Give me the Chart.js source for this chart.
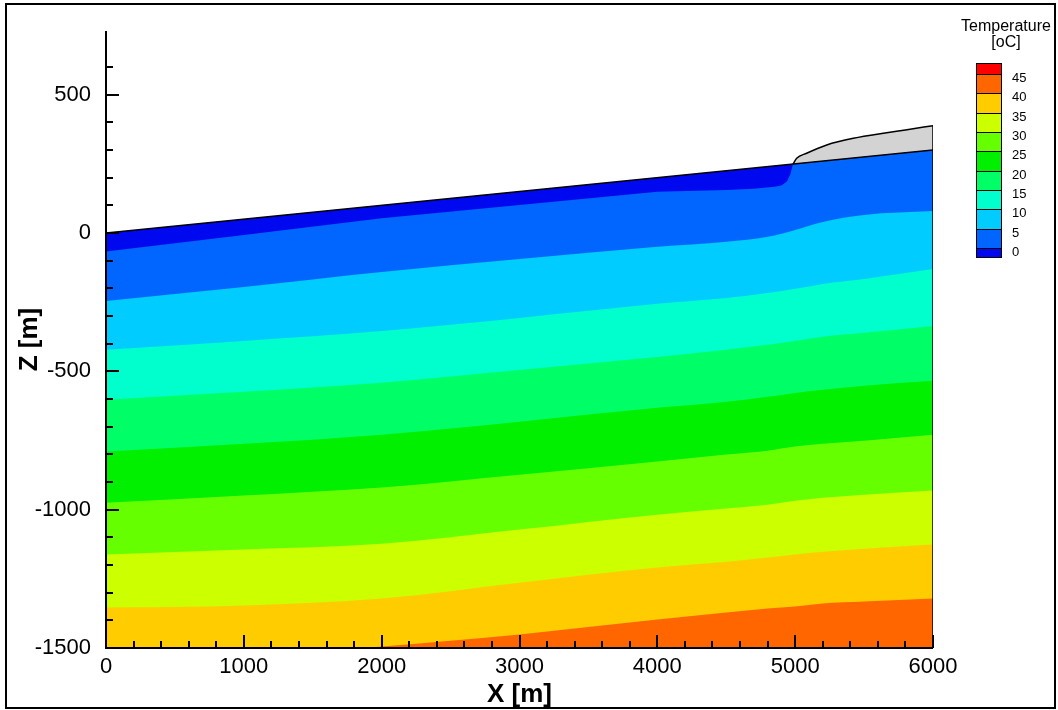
<!DOCTYPE html>
<html>
<head>
<meta charset="utf-8">
<title>Temperature cross-section</title>
<script src="https://cdn.jsdelivr.net/npm/chart.js@4.4.1/dist/chart.umd.min.js"></script>
<style>
  html, body { margin: 0; padding: 0; background: #fff; }
  #wrap { position: relative; width: 1058px; height: 710px; overflow: hidden; }
  #chart { position: absolute; left: 0; top: 0; }
  #frame { position: absolute; left: 5px; top: 3px; width: 1051px; height: 706px;
           border: 2px solid #000; box-sizing: border-box; pointer-events: none; }
  #legend { position: absolute; left: 950px; top: 18px; width: 112px;
            font-family: "Liberation Sans", Arial, sans-serif; color: #000; }
  #legend .title { text-align: center; font-size: 16px; line-height: 16px; }
  #bar { position: absolute; left: 26px; top: 45px; width: 24px;
         border: 1.5px solid #000; box-sizing: content-box; }
  #bar div { border-top: 1px solid #000; box-sizing: border-box; }
  #bar div:first-child { border-top: none; }
  .lvl { position: absolute; left: 62px; font-size: 13px; line-height: 13px; }
</style>
</head>
<body>
<div id="wrap">
  <canvas id="chart" width="1058" height="710"></canvas>
  <div id="frame"></div>
  <div id="legend">
    <div class="title">Temperature</div>
    <div class="title">[oC]</div>
    <div id="bar"></div>
  </div>
</div>
<script>
// ---- data (x and depth in m) ----
const gridX = [0, 1000, 2000, 3000, 4000, 4500, 4800, 5000, 5200, 5500, 6000];

// ground surface and the grey wedge on top of it
const surfaceX = [0, 6000];
const surfaceZ = [0, 300];
const greyX = [4984, 5011, 5083, 5229, 5422, 5664, 5800, 6000];
const greyZ = [249, 270, 288, 318, 342, 362, 372, 388];

// 0 degC isotherm (bottom of the dark blue layer), joins the surface near 4984
const iso0X = [0, 1000, 2000, 3000, 4000, 4500, 4700, 4850, 4900, 4940, 4965, 4984, 6000];
const iso0Z = [-67, -7, 53, 101, 149, 155, 160, 167, 172, 186, 212, 249, 300];

// deeper isotherms on gridX
const iso5  = [-246, -195, -141, -94, -50, -32, -14, 11, 40, 65, 79];
const iso10 = [-422, -390, -354, -307, -256, -235, -217, -202, -184, -166, -130];
const iso15 = [-603, -574, -541, -495, -448, -422, -404, -390, -375, -361, -336];
const iso20 = [-790, -762, -729, -682, -632, -610, -592, -578, -567, -552, -534];
const iso25 = [-975, -949, -920, -874, -826, -801, -787, -772, -762, -751, -729];
const iso30 = [-1162, -1144, -1123, -1072, -1018, -996, -982, -968, -957, -946, -931];
const iso35 = [-1354, -1346, -1321, -1264, -1209, -1188, -1173, -1162, -1152, -1141, -1126];
const iso40 = [-1581, -1538, -1495, -1451, -1397, -1372, -1357, -1350, -1339, -1332, -1321];

// colour bar, top to bottom
const legendLevels = [45, 40, 35, 30, 25, 20, 15, 10, 5, 0];
const bandColors = ['#ff0000', '#ff6600', '#ffcc00', '#ccff00', '#66ff00', '#00f000',
                    '#00ff66', '#00ffcc', '#00ccff', '#0066ff', '#0008f0'];

const xMin = 0, xMax = 6000, zMin = -1500, zMax = 730;

// ---- helpers ----
const pts = (xs, zs) => xs.map((x, i) => ({ x: x, y: zs[i] }));

function band(xs, zs, color, order, smooth = true) {
    const ds = { data: pts(xs, zs), showLine: true, pointRadius: 0, borderWidth: 0,
                 backgroundColor: color, fill: 'start', order: order, tension: 0 };
    if (smooth) ds.cubicInterpolationMode = 'monotone';
    return ds;
}
function outline(data, order, smooth = false) {
    const ds = { data: data, showLine: true, pointRadius: 0, borderWidth: 1.5,
                 borderColor: '#000', fill: false, order: order, tension: 0 };
    if (smooth) ds.cubicInterpolationMode = 'monotone';
    return ds;
}

const datasets = [
    band(greyX, greyZ, '#d3d3d3', 30),
    band(surfaceX, surfaceZ, bandColors[10], 29, false),
    band(iso0X, iso0Z, bandColors[9], 28, false),
    band(gridX, iso5, bandColors[8], 27),
    band(gridX, iso10, bandColors[7], 26),
    band(gridX, iso15, bandColors[6], 25),
    band(gridX, iso20, bandColors[5], 24),
    band(gridX, iso25, bandColors[4], 23),
    band(gridX, iso30, bandColors[3], 22),
    band(gridX, iso35, bandColors[2], 21),
    band(gridX, iso40, bandColors[1], 20),
    outline(pts(surfaceX, surfaceZ), 3),
    outline(pts(greyX, greyZ), 2, true),
    outline([{ x: xMax, y: zMin }, { x: xMax, y: greyZ[greyZ.length - 1] }], 1)
];

// inward ticks + axis lines, like the original plot
const inwardAxes = {
    id: 'inwardAxes',
    afterDatasetsDraw(chart) {
        const { ctx, chartArea: a, scales: { x, y } } = chart;
        ctx.save();
        ctx.strokeStyle = '#000';
        ctx.lineWidth = 2;
        ctx.beginPath();
        ctx.moveTo(a.left, a.top);
        ctx.lineTo(a.left, a.bottom);
        ctx.lineTo(a.right, a.bottom);
        ctx.stroke();
        ctx.beginPath();
        y.ticks.forEach(t => {
            if (t.value % 100 !== 0) return;
            const py = Math.round(y.getPixelForValue(t.value));
            const len = t.value % 500 === 0 ? 13 : 7;
            ctx.moveTo(a.left, py);
            ctx.lineTo(a.left + len, py);
        });
        x.ticks.forEach(t => {
            const px = Math.round(x.getPixelForValue(t.value));
            const len = t.value % 1000 === 0 ? 13 : 7;
            ctx.moveTo(px, a.bottom);
            ctx.lineTo(px, a.bottom - len);
        });
        ctx.stroke();
        ctx.restore();
    }
};

Chart.defaults.font.family = "'Liberation Sans', Arial, sans-serif";
Chart.defaults.color = '#000';

new Chart(document.getElementById('chart'), {
    type: 'scatter',
    data: { datasets: datasets },
    options: {
        responsive: false,
        animation: false,
        devicePixelRatio: 1,
        layout: { padding: { top: 31, right: 125, left: 0, bottom: 0 } },
        plugins: { legend: { display: false }, tooltip: { enabled: false } },
        scales: {
            x: {
                type: 'linear', min: xMin, max: xMax,
                grid: { display: false, drawTicks: false, tickLength: 0 },
                border: { display: false },
                ticks: { stepSize: 200, autoSkip: false, maxRotation: 0, padding: 6,
                         font: { size: 22 },
                         callback: v => (v % 1000 === 0 ? String(v) : '') },
                title: { display: true, text: 'X [m]', font: { size: 26, weight: 'bold' },
                         padding: { top: 0, bottom: 0 } },
                afterFit: s => { s.height = 62; }
            },
            y: {
                type: 'linear', min: zMin, max: zMax,
                grid: { display: false, drawTicks: false, tickLength: 0 },
                border: { display: false },
                ticks: { stepSize: 100, autoSkip: false, padding: 15,
                         font: { size: 22 },
                         callback: v => (v % 500 === 0 ? String(v) : '') },
                title: { display: true, text: 'Z [m]', font: { size: 26, weight: 'bold' },
                         padding: { top: 14, bottom: 0 } },
                afterFit: s => { s.width = 106; }
            }
        }
    },
    plugins: [inwardAxes]
});

// colour bar (top band and bottom band are half height)
const bar = document.getElementById('bar');
const legend = document.getElementById('legend');
const step = 19.33;
bandColors.forEach((c, i) => {
    const d = document.createElement('div');
    d.style.background = c;
    d.style.height = (i === 0 ? 10 : i === bandColors.length - 1 ? 9.3 : step) + 'px';
    bar.appendChild(d);
});
legendLevels.forEach((lv, i) => {
    const s = document.createElement('div');
    s.className = 'lvl';
    s.textContent = String(lv);
    s.style.top = (45 + 10 + i * step - 2) + 'px';
    legend.appendChild(s);
});
</script>
</body>
</html>
